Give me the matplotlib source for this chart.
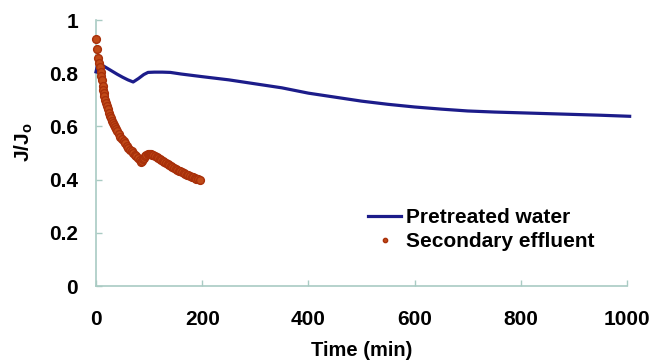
import matplotlib
matplotlib.use("Agg")
import matplotlib.pyplot as plt

# font setup (Arial-like bold everywhere)
plt.rcParams['font.family'] = ['Liberation Sans', 'DejaVu Sans']
plt.rcParams['font.weight'] = 'bold'
plt.rcParams['mathtext.fontset'] = 'custom'
plt.rcParams['mathtext.bf'] = 'Liberation Sans:bold'
plt.rcParams['mathtext.rm'] = 'Liberation Sans:bold'

# pretreated water (line)
pre_time = [0, 4, 10, 20, 30, 40, 50, 60, 70, 80, 90, 98, 110, 125, 140, 160, 180,
            200, 250, 300, 350, 400, 450, 500, 550, 600, 650, 700, 750, 800, 850,
            900, 950, 1005]
pre_flux = [0.805, 0.840, 0.832, 0.820, 0.808, 0.796, 0.785, 0.775, 0.767, 0.780,
            0.795, 0.803, 0.804, 0.804, 0.803, 0.797, 0.792, 0.787, 0.775, 0.760,
            0.745, 0.725, 0.710, 0.695, 0.683, 0.673, 0.665, 0.658, 0.654, 0.651,
            0.648, 0.645, 0.642, 0.638]

# secondary effluent (markers)
sec_time = [0, 1, 4, 5.5, 7, 8.5, 10, 11.5, 12.5, 13.5, 14.5, 15.5, 17, 18.5, 20,
            22, 24, 26, 28, 30, 32, 34, 36, 38, 40, 43, 46, 49, 52, 55, 58, 61, 64,
            67, 70, 73, 76, 79, 82, 85, 87, 89, 91, 93, 95, 97, 99, 101, 103, 105,
            108, 111, 114, 117, 120, 123, 126, 129, 132, 135, 138, 141, 144, 147,
            150, 153, 156, 159, 162, 165, 168, 171, 174, 177, 180, 183, 186, 189,
            192, 195]
sec_flux = [0.930, 0.890, 0.856, 0.838, 0.824, 0.806, 0.788, 0.774, 0.752, 0.738,
            0.725, 0.714, 0.700, 0.688, 0.676, 0.664, 0.652, 0.640, 0.631, 0.622,
            0.614, 0.605, 0.597, 0.590, 0.583, 0.572, 0.562, 0.553, 0.544, 0.536,
            0.528, 0.520, 0.513, 0.507, 0.500, 0.494, 0.488, 0.481, 0.474, 0.468,
            0.469, 0.476, 0.483, 0.488, 0.492, 0.495, 0.497, 0.497, 0.496, 0.494,
            0.491, 0.488, 0.485, 0.481, 0.478, 0.474, 0.470, 0.466, 0.462, 0.458,
            0.454, 0.451, 0.447, 0.444, 0.440, 0.437, 0.434, 0.431, 0.428, 0.425,
            0.422, 0.419, 0.416, 0.413, 0.411, 0.408, 0.405, 0.403, 0.401, 0.398]

x_ticks = [0, 200, 400, 600, 800, 1000]
y_ticks = [0, 0.2, 0.4, 0.6, 0.8, 1]
y_ticklabels = ['0', '0.2', '0.4', '0.6', '0.8', '1']

fig = plt.figure(figsize=(6.5, 3.63), dpi=100)
ax = fig.add_axes([96 / 650, 1 - 286 / 363, 531 / 650, 266 / 363])

ax.plot(pre_time, pre_flux, color='#1c1c8a', lw=2.3, clip_on=False,
        label='Pretreated water', zorder=3)
ax.plot(sec_time, sec_flux, ls='none', marker='o', ms=5.6, mfc='#c04a18',
        mec='#a8300a', mew=1.0, clip_on=False, label='Secondary effluent', zorder=4)

ax.set_xlim(0, 1000)
ax.set_ylim(0, 1)
ax.set_xticks(x_ticks)
ax.set_yticks(y_ticks)
ax.set_yticklabels(y_ticklabels)

axis_col = '#a9cbc3'
for side in ['top', 'right']:
    ax.spines[side].set_visible(False)
for side in ['left', 'bottom']:
    ax.spines[side].set_color(axis_col)
    ax.spines[side].set_linewidth(1.2)
ax.tick_params(axis='both', direction='in', length=4, width=1, color=axis_col,
               labelsize=15)
ax.tick_params(axis='x', pad=17)
ax.tick_params(axis='y', pad=13)

ax.set_xlabel('Time (min)', fontsize=14.5, fontweight='bold', labelpad=9)
ax.set_ylabel(r'$\mathbf{J/J_o}$', fontsize=15, labelpad=12)
ax.yaxis.set_label_coords(-0.115, 0.54)

leg = ax.legend(loc='upper left', bbox_to_anchor=(368 / 650, 1 - 208 / 363),
                bbox_transform=fig.transFigure, frameon=False, fontsize=15,
                borderpad=0, borderaxespad=0, handlelength=1.6,
                handletextpad=0.2, labelspacing=0.25, markerscale=0.55)

fig.savefig('out.png', dpi=100)
